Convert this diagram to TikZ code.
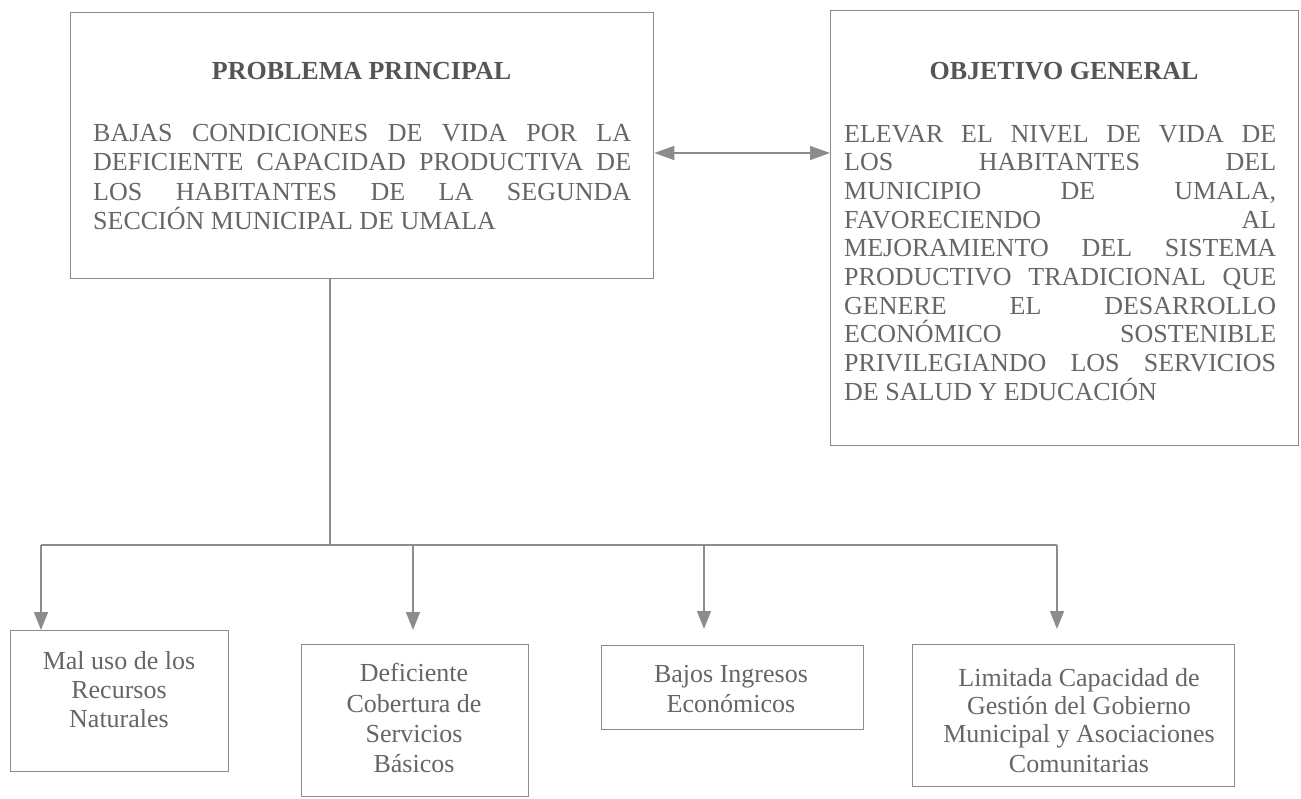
\documentclass[tikz,border=0pt]{standalone}
\usepackage{fontspec}
\setmainfont{Liberation Serif}
\usetikzlibrary{arrows.meta}
\definecolor{ink}{HTML}{666666}
\definecolor{tink}{HTML}{555555}
\definecolor{linec}{HTML}{8C8C8C}
\newcommand{\jl}[2]{\makebox[#1][s]{#2}}
\begin{document}
\begin{tikzpicture}[x=1pt,y=-1pt,
  boxst/.style={draw=linec, line width=1.4pt, rectangle, inner sep=0pt, anchor=north west},
  body/.style={text=ink, inner sep=0pt, anchor=base west, font=\fontsize{26}{29}\selectfont},
  ctext/.style={text=ink, inner sep=0pt, anchor=base, font=\fontsize{26}{29}\selectfont},
  ttl/.style={text=tink, inner sep=0pt, anchor=base, font=\fontsize{26}{29}\selectfont\bfseries},
  conn/.style={draw=linec, line width=1.4pt},
  tip/.style={-{Triangle[length=18pt,width=14pt]}},
  dtip/.style={{Triangle[length=20pt,width=14pt]}-{Triangle[length=20pt,width=14pt]}}
]
\fill[white] (0,0) rectangle (1301,798);
\useasboundingbox (0,0) rectangle (1301,798);

% main boxes
\node[boxst, minimum width=583pt, minimum height=266pt] (pp) at (70,12) {};
\node[boxst, minimum width=468pt, minimum height=435pt] (og) at (830,10) {};

% left box text
\node[ttl] (ppt) at (361.5,79) {PROBLEMA PRINCIPAL};
\node[body] (pl1) at (93,141) {\jl{538pt}{BAJAS CONDICIONES DE VIDA POR LA}};
\node[body] (pl2) at (93,170.5) {\jl{538pt}{DEFICIENTE CAPACIDAD PRODUCTIVA DE}};
\node[body] (pl3) at (93,200) {\jl{538pt}{LOS HABITANTES DE LA SEGUNDA}};
\node[body] (pl4) at (93,229.5) {SECCIÓN MUNICIPAL DE UMALA};

% right box text
\node[ttl] (ogt) at (1064,79) {OBJETIVO GENERAL};
\node[body] (ol1) at (844,142) {\jl{432pt}{ELEVAR EL NIVEL DE VIDA DE}};
\node[body] (ol2) at (844,170.7) {\jl{432pt}{LOS HABITANTES DEL}};
\node[body] (ol3) at (844,199.4) {\jl{432pt}{MUNICIPIO DE UMALA,}};
\node[body] (ol4) at (844,228.1) {\jl{432pt}{FAVORECIENDO AL}};
\node[body] (ol5) at (844,256.8) {\jl{432pt}{MEJORAMIENTO DEL SISTEMA}};
\node[body] (ol6) at (844,285.5) {\jl{432pt}{PRODUCTIVO TRADICIONAL QUE}};
\node[body] (ol7) at (844,314.2) {\jl{432pt}{GENERE EL DESARROLLO}};
\node[body] (ol8) at (844,342.9) {\jl{432pt}{ECONÓMICO SOSTENIBLE}};
\node[body] (ol9) at (844,371.6) {\jl{432pt}{PRIVILEGIANDO LOS SERVICIOS}};
\node[body] (ol10) at (844,400.3) {DE SALUD Y EDUCACIÓN};

% bottom boxes
\node[boxst, minimum width=218pt, minimum height=141pt] (b1) at (10,630) {};
\node[boxst, minimum width=227pt, minimum height=152pt] (b2) at (301,644) {};
\node[boxst, minimum width=262pt, minimum height=84pt] (b3) at (601,645) {};
\node[boxst, minimum width=322pt, minimum height=142pt] (b4) at (912,644) {};

\node[ctext] (b1a) at (119,669) {Mal uso de los};
\node[ctext] (b1b) at (119,698) {Recursos};
\node[ctext] (b1c) at (119,727) {Naturales};

\node[ctext] (b2a) at (414,681) {Deficiente};
\node[ctext] (b2b) at (414,712) {Cobertura de};
\node[ctext] (b2c) at (414,742) {Servicios};
\node[ctext] (b2d) at (414,772) {Básicos};

\node[ctext] (b3a) at (731,682) {Bajos Ingresos};
\node[ctext] (b3b) at (731,712) {Económicos};

\node[ctext] (b4a) at (1079,686) {Limitada Capacidad de};
\node[ctext] (b4b) at (1079,714) {Gestión del Gobierno};
\node[ctext] (b4c) at (1079,742) {Municipal y Asociaciones};
\node[ctext] (b4d) at (1079,772) {Comunitarias};

% connectors
\coordinate (mid) at (740,153);
\draw[conn, dtip] (pp.east |- mid) -- (og.west |- mid);

\coordinate (j) at (330,545);
\coordinate (a1) at (41,545);
\coordinate (a2) at (413,545);
\coordinate (a3) at (704,545);
\coordinate (a4) at (1057,545);
\coordinate (t1) at (41,630);
\coordinate (t2) at (413,630);
\coordinate (t3) at (704,629);
\coordinate (t4) at (1057,629);

\draw[conn] (pp.south -| j) -- (j);
\draw[conn] (a1) -- (a4);
\draw[conn, tip] (a1) -- (t1);
\draw[conn, tip] (a2) -- (t2);
\draw[conn, tip] (a3) -- (t3);
\draw[conn, tip] (a4) -- (t4);
\end{tikzpicture}
\end{document}
